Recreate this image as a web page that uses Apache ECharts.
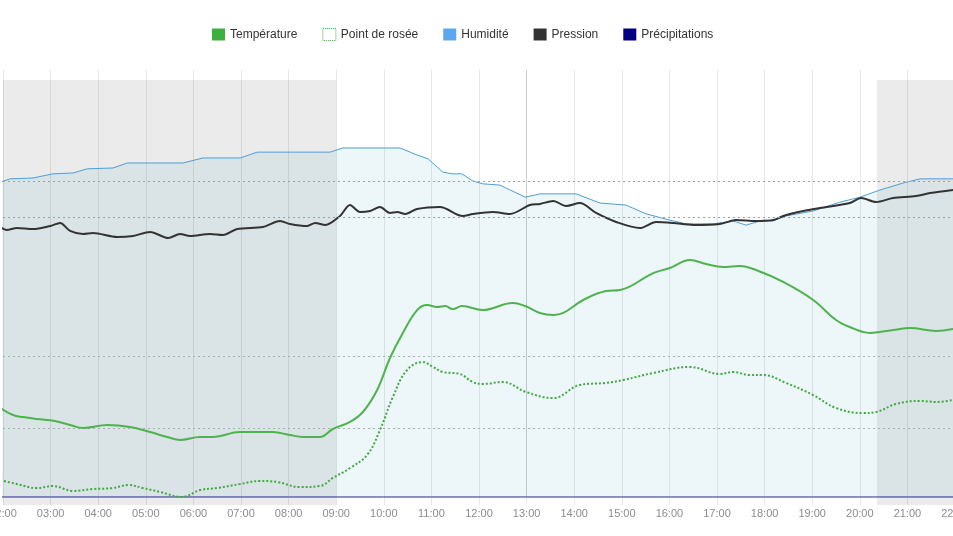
<!DOCTYPE html>
<html><head><meta charset="utf-8">
<script src="https://cdn.jsdelivr.net/npm/echarts@6/dist/echarts.min.js"></script>
<style>html,body{margin:0;padding:0;background:#fff}#c{width:953px;height:536px}</style>
</head><body><div id="c"></div>
<script>
// ---- data (hour of day, value) ----
const seriesNames = ['Température', 'Point de rosée', 'Humidité', 'Pression', 'Précipitations'];

const temperature = [
  [1.94,11.39],[2.21,10.90],[2.42,10.76],[2.71,10.63],[3.09,10.49],[3.41,10.21],[3.68,10.00],
  [4.19,10.21],[4.67,10.07],[5.09,9.72],[5.45,9.38],[5.72,9.17],[6.14,9.38],[6.41,9.38],
  [6.98,9.72],[7.67,9.72],[8.03,9.51],[8.30,9.38],[8.66,9.38],[8.93,9.93],[9.29,10.42],
  [9.56,11.11],[9.86,12.64],[10.13,14.86],[10.40,16.60],[10.70,18.19],[10.91,18.54],
  [11.12,18.40],[11.29,18.47],[11.45,18.26],[11.64,18.47],[12.08,18.19],[12.71,18.68],
  [12.97,18.47],[13.28,17.99],[13.56,17.85],[13.77,17.99],[14.19,18.89],[14.67,19.51],
  [14.96,19.58],[15.66,20.76],[16.01,21.11],[16.43,21.67],[16.77,21.39],[17.13,21.18],
  [17.48,21.25],[17.82,20.97],[18.39,20.14],[19.02,18.89],[19.50,17.50],[19.79,17.01],
  [20.21,16.60],[20.42,16.67],[20.70,16.81],[21.06,16.94],[21.60,16.74],[21.96,16.88]
];

const dewPoint = [
  [1.94,6.39],[2.29,6.11],[2.71,5.83],[3.05,5.97],[3.47,5.63],[3.89,5.76],[4.31,5.83],
  [4.63,6.04],[4.94,5.83],[5.30,5.56],[5.76,5.21],[6.14,5.69],[6.50,5.83],[6.98,6.11],
  [7.40,6.32],[7.76,6.25],[8.24,5.90],[8.66,5.97],[8.93,6.53],[9.29,7.22],[9.65,8.13],
  [9.92,9.86],[10.19,12.15],[10.49,14.03],[10.82,14.58],[11.03,14.24],[11.24,13.89],
  [11.60,13.75],[11.87,13.19],[12.08,13.06],[12.50,13.19],[12.99,12.50],[13.56,12.08],
  [14.12,12.99],[14.67,13.13],[15.03,13.33],[15.66,13.82],[16.43,14.24],[17.06,13.75],
  [17.34,13.89],[17.69,13.68],[17.97,13.68],[18.45,13.13],[19.02,12.29],[19.50,11.39],
  [20.07,11.04],[20.34,11.11],[20.76,11.67],[21.27,11.88],[21.60,11.81],[21.96,11.94]
];

const humidity = [
  [1.94,75.5],[2.15,76.3],[2.63,76.5],[3.05,77.5],[3.47,77.7],[3.77,78.7],[4.31,78.9],
  [4.61,80.1],[5.78,80.1],[6.20,81.3],[6.98,81.3],[7.34,82.7],[8.87,82.7],[9.14,83.7],
  [10.34,83.7],[10.70,82.0],[10.93,81.1],[11.24,77.9],[11.45,77.5],[11.64,77.5],
  [11.87,75.8],[12.08,75.1],[12.44,74.8],[12.97,71.9],[13.28,72.7],[14.04,72.7],
  [14.54,70.5],[15.09,70.0],[15.51,67.9],[16.01,66.4],[16.35,65.5],[16.92,65.5],
  [17.34,66.2],[17.61,65.2],[17.97,66.4],[18.18,66.2],[18.45,67.4],[19.02,68.6],
  [19.58,70.7],[20.00,71.9],[20.42,73.6],[20.91,75.3],[21.27,76.3],[21.96,76.3]
];

const pressure = [
  [1.94,1013.61],[2.08,1013.19],[2.29,1013.47],[2.63,1013.33],[2.99,1013.75],[3.20,1014.17],
  [3.41,1013.06],[3.68,1012.64],[3.89,1012.78],[4.40,1012.22],[4.73,1012.36],[5.09,1012.92],
  [5.47,1012.08],[5.72,1012.64],[5.93,1012.36],[6.35,1012.64],[6.62,1012.50],[6.92,1013.33],
  [7.46,1013.61],[7.82,1014.44],[8.03,1014.03],[8.39,1013.75],[8.56,1014.17],[8.77,1013.89],
  [9.08,1015.14],[9.29,1016.67],[9.50,1015.69],[9.71,1015.83],[9.92,1016.39],[10.13,1015.56],
  [10.28,1015.69],[10.45,1015.42],[10.70,1016.11],[11.18,1016.39],[11.66,1015.14],
  [11.87,1015.42],[12.29,1015.69],[12.65,1015.42],[13.07,1016.67],[13.28,1016.81],
  [13.56,1017.22],[13.83,1016.53],[14.12,1016.94],[14.46,1015.56],[14.88,1014.31],
  [15.38,1013.47],[15.72,1014.31],[16.08,1014.17],[16.50,1013.89],[17.06,1014.03],
  [17.40,1014.58],[17.82,1014.44],[18.18,1014.58],[18.39,1015.14],[18.81,1015.83],
  [19.16,1016.25],[19.79,1016.94],[20.03,1017.64],[20.34,1017.08],[20.70,1017.64],
  [21.18,1017.92],[21.48,1018.33],[21.96,1018.75]
];

const precipitation = [
  [1.94,0],[2,0],[3,0],[4,0],[5,0],[6,0],[7,0],[8,0],[9,0],[10,0],[11,0],[12,0],
  [13,0],[14,0],[15,0],[16,0],[17,0],[18,0],[19,0],[20,0],[21,0],[21.96,0]
];

const nightPeriods = [[1.94, 9.0], [20.36, 21.96]];
const tempGuides = [10, 15];
const pressureGuides = [1015, 1020];
const currentHour = 13;
const hourRange = [2, 22];

// ---- chart ----
const GREEN = '#3db13d';
const chart = echarts.init(document.getElementById('c'), null, { renderer: 'canvas' });

const dotted = (color) => ({ color: color, width: 1, type: [2, 3] });

chart.setOption({
  animation: false,
  backgroundColor: '#fff',
  textStyle: { fontFamily: 'Liberation Sans, Arial, sans-serif' },
  legend: {
    top: 23, left: 207,
    itemWidth: 13, itemHeight: 12, itemGap: 25,
    icon: 'rect',
    textStyle: { fontSize: 12, color: '#333', fontFamily: 'Liberation Sans, Arial, sans-serif' },
    data: [
      { name: seriesNames[0] },
      { name: seriesNames[1], itemStyle: { color: 'rgba(255,255,255,0)', borderColor: GREEN, borderWidth: 1, borderType: [1, 1] } },
      { name: seriesNames[2] },
      { name: seriesNames[3] },
      { name: seriesNames[4] }
    ]
  },
  grid: { left: 3, right: -2, top: 70, bottom: 31, outerBoundsMode: 'none', containLabel: false },
  xAxis: {
    type: 'value', min: hourRange[0], max: hourRange[1], interval: 1,
    axisLine: { show: false }, axisTick: { show: false },
    axisLabel: {
      margin: 3, fontSize: 11, color: '#8c8c8c', showMinLabel: true, showMaxLabel: true,
      formatter: v => String(v).padStart(2, '0') + ':00'
    },
    splitLine: { show: true, lineStyle: { color: 'rgba(0,0,0,0.09)', width: 1 } }
  },
  yAxis: [
    { type: 'value', show: false, min: 4.653, max: 34.861, splitLine: { show: false } },
    { type: 'value', show: false, min: -1.918, max: 102.4, splitLine: { show: false } },
    { type: 'value', show: false, min: 975, max: 1035.417, splitLine: { show: false } },
    { type: 'value', show: false, min: -0.192, max: 10.24, splitLine: { show: false } }
  ],
  series: [
    {
      name: seriesNames[2], type: 'line', yAxisIndex: 1, data: humidity, clip: false,
      symbol: 'none', smooth: false,
      itemStyle: { color: '#5aa9ee' },
      lineStyle: { color: '#4e9fd3', width: 1 },
      areaStyle: { color: 'rgba(0,130,175,0.1)', origin: 0 },
      markArea: {
        silent: true,
        itemStyle: { color: 'rgba(0,0,0,0.08)' },
        data: nightPeriods.map(p => [{ xAxis: p[0], yAxis: 100 }, { xAxis: p[1], yAxis: -1.918 }])
      },
      z: 1
    },
    {
      name: seriesNames[4], type: 'line', yAxisIndex: 3, data: precipitation, clip: false,
      symbol: 'none', itemStyle: { color: '#000080' },
      lineStyle: { color: '#2a2a85', width: 1 },
      markLine: {
        silent: true, symbol: 'none', label: { show: false },
        lineStyle: { color: 'rgba(60,70,80,0.16)', width: 1, type: 'solid' },
        data: [[{ xAxis: currentHour, yAxis: 0 }, { xAxis: currentHour, yAxis: 10.24 }]]
      },
      z: 2
    },
    {
      name: seriesNames[3], type: 'line', yAxisIndex: 2, data: pressure, clip: false,
      symbol: 'none', smooth: 0.3,
      itemStyle: { color: '#333333' },
      lineStyle: { color: '#333333', width: 2 },
      markLine: {
        silent: true, symbol: 'none', label: { show: false },
        lineStyle: dotted('#9aa0a4'),
        data: pressureGuides.map(v => ({ yAxis: v }))
      },
      z: 3
    },
    {
      name: seriesNames[1], type: 'line', yAxisIndex: 0, data: dewPoint, clip: false,
      symbol: 'none', smooth: 0.4,
      itemStyle: { color: GREEN },
      lineStyle: { color: '#3faa3f', width: 2, type: [2, 2] },
      z: 4
    },
    {
      name: seriesNames[0], type: 'line', yAxisIndex: 0, data: temperature, clip: false,
      symbol: 'none', smooth: 0.4,
      itemStyle: { color: GREEN },
      lineStyle: { color: '#4db44d', width: 2 },
      markLine: {
        silent: true, symbol: 'none', label: { show: false },
        lineStyle: dotted('#9fb5a6'),
        data: tempGuides.map(v => ({ yAxis: v }))
      },
      z: 5
    }
  ]
});
</script>
</body></html>
